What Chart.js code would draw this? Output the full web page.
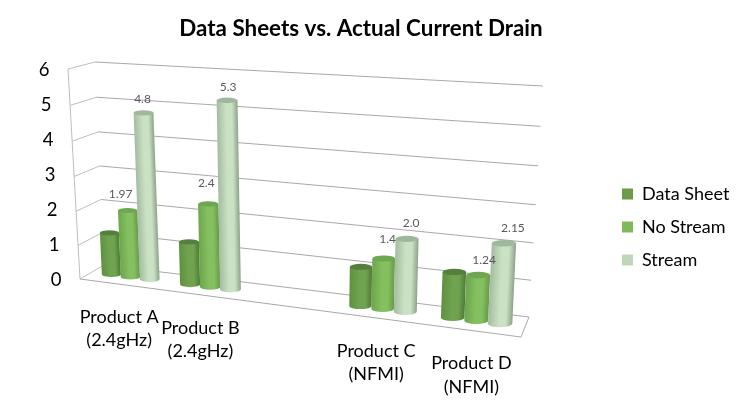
<!DOCTYPE html>
<html><head><meta charset="utf-8">
<style>html,body{margin:0;padding:0;background:#fff}canvas{display:block}</style>
<script src="https://cdn.jsdelivr.net/npm/chart.js@4/dist/chart.umd.min.js"></script>
</head><body><canvas id="c" width="747" height="408"></canvas>
<script>
const categories = [["Product A","(2.4gHz)"],["Product B","(2.4gHz)"],"",["Product C","(NFMI)"],["Product D","(NFMI)"]];
const dataSheet = [1.25,1.25,null,1.1,1.25];
const noStream  = [1.97,2.4,null,1.4,1.24];
const stream    = [4.8,5.3,null,2.0,2.15];
const noStreamLabels = ["1.97","2.4","","1.4","1.24"];
const streamLabels   = ["4.8","5.3","","2.0","2.15"];
const yTicks = [0,1,2,3,4,5,6];
const seriesNames = ["Data Sheet","No Stream","Stream"];
const seriesColors = ["#6a9a4a","#7fb95b","#bfd6b8"];
const FONT = "Lato, Carlito, sans-serif";

// view of the 3-D box: screen corners of the back wall and the front plane
const backQuad  = [[104,265],[529,317],[95,62],[543,86]];
const frontQuad = [[80,279],[521,337],[68,69],[532,99]];
const barDepth = 0.5;
function homography(q){
  const [p0,p1,p3,p2]=q; // (0,0),(1,0),(0,1),(1,1)
  const dx1=p1[0]-p2[0],dx2=p3[0]-p2[0],sx=p0[0]-p1[0]+p2[0]-p3[0];
  const dy1=p1[1]-p2[1],dy2=p3[1]-p2[1],sy=p0[1]-p1[1]+p2[1]-p3[1];
  const d=dx1*dy2-dx2*dy1;
  const g=(sx*dy2-dx2*sy)/d,h=(dx1*sy-sx*dy1)/d;
  const a=p1[0]-p0[0]+g*p1[0],b=p3[0]-p0[0]+h*p3[0];
  const e=p1[1]-p0[1]+g*p1[1],f=p3[1]-p0[1]+h*p3[1];
  return (u,v)=>{const w=g*u+h*v+1;return [(a*u+b*v+p0[0])/w,(e*u+f*v+p0[1])/w];};
}
const hBack=homography(backQuad),hFront=homography(frontQuad);
// u,v are 0..1 fractions of the chart area, depth 0 = front, 1 = back
function project(u,v,depth){
  const f=hFront(u,v),b=hBack(u,v);
  return [f[0]+(b[0]-f[0])*depth,f[1]+(b[1]-f[1])*depth];
}
const shades = [
  {edgeL:"#5f9040",mid:"#6fa34f",edgeR:"#4f7a36",top:"#557f3c"},
  {edgeL:"#6da64c",mid:"#84bf60",edgeR:"#659a47",top:"#6fa651"},
  {edgeL:"#a3bca0",mid:"#cbe1c4",edgeR:"#8ba388",top:"#9db89b"}
];
const labelSets = [null,noStreamLabels,streamLabels];
const labelNudge = [null,[[-7,-16],[-2,-21],null,[4,-19],[6,-15]],[[-1,-14],[1,-13],null,[4,-16],[9,-15]]];

const box3d = {
  id:"box3d",
  afterLayout(chart){
    const l=chart.legend; const w=l.width;
    const start=185, colH=l.columnSizes[0].height, pad=l.options.labels.padding;
    l.left=622-pad; l.right=l.left+w;
    l.top=start-pad; l.bottom=start+colH;
    const t=chart.titleBlock; t.left=0; t.right=722;
  },
  beforeDatasetsDraw(chart){
    const {ctx,chartArea:a,scales}=chart;
    const y=scales.y,x=scales.x;
    const frac=p=>(a.bottom-p)/(a.bottom-a.top);
    const line=(p,q,c)=>{ctx.beginPath();ctx.moveTo(p[0],p[1]);ctx.lineTo(q[0],q[1]);ctx.strokeStyle=c;ctx.lineWidth=1;ctx.stroke();};
    // walls and grid
    y.ticks.forEach(t=>{
      const v=frac(y.getPixelForValue(t.value));
      line(project(0,v,0),project(0,v,1),"#bdbdbd");
      line(project(0,v,1),project(1,v,1),"#a8a8a8");
    });
    line(project(0,0,0),project(0,1,0),"#bdbdbd");
    line(project(0,0,0),project(1,0,0),"#a8a8a8");
    line(project(1,0,0),project(1,0,1),"#a8a8a8");
    // y tick labels follow the slanted front edge
    ctx.fillStyle="#000";ctx.font="18.5px "+FONT;ctx.textBaseline="middle";ctx.textAlign="center";
    y.ticks.forEach(t=>{
      const pix=y.getPixelForValue(t.value);
      const p=project(0,frac(pix),0);
      ctx.fillText(String(t.value),p[0]-24,pix);
    });
    // x labels hang under the front floor edge
    ctx.font="18px "+FONT;
    x.ticks.forEach((t,i)=>{
      const lab=categories[i]; if(!Array.isArray(lab)) return;
      const u=(x.getPixelForTick(i)-a.left)/(a.right-a.left);
      const p=project(u,0,0);
      lab.forEach((s,k)=>ctx.fillText(s,p[0],p[1]+33+k*23.5));
    });
    // cylinders, read from the bar elements the library laid out
    const n=categories.length;
    for(let i=0;i<n;i++){
      chart.data.datasets.forEach((ds,di)=>{
        const el=chart.getDatasetMeta(di).data[i];
        if(ds.data[i]==null) return;
        const W=a.right-a.left;
        const u1=(el.x-el.width/2-a.left)/W,u2=(el.x+el.width/2-a.left)/W;
        const vT=frac(el.y),vB=frac(el.base);
        const bl=project(u1,vB,barDepth),br=project(u2,vB,barDepth);
        const tl=project(u1,vT,barDepth),tr=project(u2,vT,barDepth);
        const bc=[(bl[0]+br[0])/2,(bl[1]+br[1])/2],tc=[(tl[0]+tr[0])/2,(tl[1]+tr[1])/2];
        const rx=(br[0]-bl[0]+tr[0]-tl[0])/4,ry=rx*0.27;
        const s=shades[di];
        ctx.save();
        const k=(tc[0]-bc[0])/(tc[1]-bc[1]);
        ctx.transform(1,0,k,1,-k*bc[1],0);
        const g=ctx.createLinearGradient(bc[0]-rx,0,bc[0]+rx,0);
        g.addColorStop(0,s.edgeL);g.addColorStop(.45,s.mid);g.addColorStop(.72,s.mid);g.addColorStop(1,s.edgeR);
        ctx.fillStyle=g;
        ctx.beginPath();
        ctx.moveTo(bc[0]-rx,tc[1]);ctx.lineTo(bc[0]+rx,tc[1]);ctx.lineTo(bc[0]+rx,bc[1]);
        ctx.ellipse(bc[0],bc[1],rx,ry,0,0,Math.PI);
        ctx.closePath();ctx.fill();
        ctx.restore();
        ctx.beginPath();ctx.ellipse(tc[0],tc[1],rx,ry,0,0,Math.PI*2);ctx.fillStyle=s.top;ctx.fill();
        el.$top=tc;
      });
    }
    // value labels
    ctx.font="12px "+FONT;ctx.fillStyle="#595959";
    labelSets.forEach((set,di)=>{
      if(!set) return;
      set.forEach((txt,i)=>{
        if(!txt) return;
        const tc=chart.getDatasetMeta(di).data[i].$top,o=labelNudge[di][i];
        ctx.fillText(txt,tc[0]+o[0],tc[1]+o[1]);
      });
    });
    return false;
  }
};

new Chart(document.getElementById("c"),{
  type:"bar",
  data:{labels:categories.map(c=>Array.isArray(c)?c.join(" "):c),datasets:[
    {label:seriesNames[0],data:dataSheet,backgroundColor:seriesColors[0]},
    {label:seriesNames[1],data:noStream,backgroundColor:seriesColors[1]},
    {label:seriesNames[2],data:stream,backgroundColor:seriesColors[2]}
  ]},
  plugins:[box3d],
  options:{
    responsive:false,animation:false,
    layout:{padding:{left:60,right:105,top:15,bottom:128}},
    datasets:{bar:{categoryPercentage:0.74,barPercentage:1}},
    plugins:{
      tooltip:{enabled:false},
      title:{display:true,text:"Data Sheets vs. Actual Current Drain",color:"#000",
        font:{family:FONT,size:22.4,weight:"bold"},padding:{top:0,bottom:28}},
      legend:{position:"right",labels:{boxWidth:11,boxHeight:11,padding:15,color:"#000",font:{family:FONT,size:18}}}
    },
    scales:{
      x:{display:true,grid:{display:false,drawTicks:false},border:{display:false},ticks:{display:false}},
      y:{min:0,max:6,grid:{display:false,drawTicks:false},border:{display:false},
         ticks:{display:false,stepSize:1}}
    }
  }
});
</script></body></html>
